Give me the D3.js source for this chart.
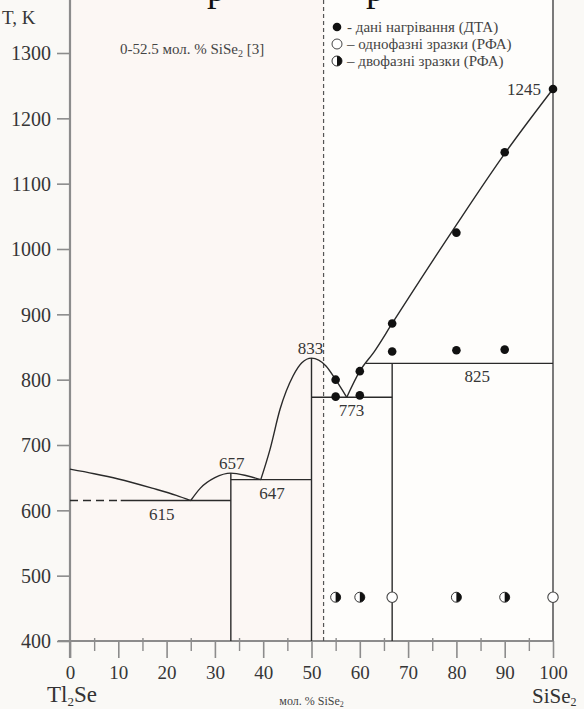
<!DOCTYPE html>
<html><head><meta charset="utf-8">
<script src="https://cdn.jsdelivr.net/npm/d3@7"></script>
<style>
html,body{margin:0;padding:0;background:#faf9f6;overflow:hidden;}
svg{display:block;}
text{font-family:"Liberation Serif","Times New Roman",serif;}
</style></head><body>
<svg id="chart" width="584" height="709"></svg>
<script>
// Axis ticks: composition (mol. % SiSe2) and temperature (K)
const xTicks = [0,10,20,30,40,50,60,70,80,90,100];
const xMinorTicks = [5,15,25,35,45,55,65,75,85,95];
const yTicks = [400,500,600,700,800,900,1000,1100,1200,1300];

// Liquidus branches as [mol. % SiSe2, T]
const liqTl2Se   = [[0,663],[5,656],[10,648],[17,634],[22,623],[25,615]];
const liqTl4SiSe4 = [[25,615],[27,634],[30,650],[33.3,657],[36.6,653],[39.5,647]];
const liqTl2SiSe3 = [[39.5,647],[41.4,693],[43.5,755],[46.2,806],[48,826],[50,833],[53,821],[55,800],[57.3,773]];
const liqSiSe2   = [[57.3,773],[60,813],[63,843],[66.7,886],[70,924],[80,1037],[90,1146],[100,1245]];

// Invariant temperatures (K) with their composition ranges
const eutectic615 = {T:615, from:0, dashedTo:10.5, to:33.3};
const eutectic647 = {T:647, from:33.3, to:50};
const eutectic773 = {T:773, from:50, to:66.7};
const peritectic825 = {T:825, to:100};

// Compound verticals: composition and top temperature
const compoundX = [33.3, 50, 66.7];
const compoundTop = [657, 833, 825];

// Boundary of the region studied in [3]
const refLimitX = 52.5;

// DTA heating data
const dtaX = [55,55,60,60,66.7,66.7,80,80,90,90,100];
const dtaT = [800,774,813,776,886,843,1025,845,1148,846,1245];

// XRD samples
const xrdT = 467;
const singlePhaseX = [66.7,100];
const twoPhaseX = [55,60,80,90];

// Temperature labels on the diagram
const labelText = ["615","657","647","833","773","825","1245"];
const labelX = [19.0,33.5,41.8,49.8,58.3,84.3,97.5];
const labelT = [615,657,647,833,773,825,1245];

const legendText = ["дані нагрівання (ДТА)","однофазні зразки (РФА)","двофазні зразки (РФА)"];

const svg = d3.select("#chart");
const x = d3.scaleLinear([0,100],[70,553]);
const y = d3.scaleLinear([400,1300],[641,53]);
const ink = "#2a2a2a", axisGrey = "#8c8c8c", textCol = "#363636";

// Background panels
svg.append("rect").attr("x",x(0)).attr("y",0).attr("width",x(refLimitX)-x(0)).attr("height",y(400))
  .attr("fill","#fcf7f4");
svg.append("rect").attr("x",x(refLimitX)).attr("y",0).attr("width",x(100)-x(refLimitX)).attr("height",y(400))
  .attr("fill","#fefdfb");

// Fragments of the heading above the figure
svg.append("g").selectAll("text").data([207,366]).join("text")
  .attr("x",d=>d).attr("y",1).attr("font-size",38).attr("fill","#111").text("р");

// Y axis
const yAxis = svg.append("g").attr("transform",`translate(${x(0)},0)`)
  .call(d3.axisLeft(y).tickValues(yTicks).tickSize(13).tickPadding(6).tickFormat(d3.format("d")));
yAxis.select(".domain").remove();
yAxis.selectAll(".tick line").attr("stroke",axisGrey).attr("stroke-width",1.6);
yAxis.selectAll(".tick text").attr("font-size",20).attr("fill",textCol)
  .attr("font-family","Liberation Serif, serif").attr("dy","0.34em");
svg.append("line").attr("x1",x(0)).attr("x2",x(0)).attr("y1",0).attr("y2",y(400)+17)
  .attr("stroke",axisGrey).attr("stroke-width",2.2);

// X axis
const xAxisG = svg.append("g").attr("transform",`translate(0,${y(400)})`);
xAxisG.call(d3.axisBottom(x).tickValues(xTicks).tickSize(17).tickPadding(8).tickFormat(d3.format("d")));
xAxisG.select(".domain").remove();
xAxisG.selectAll(".tick line").attr("stroke",axisGrey).attr("stroke-width",1.6);
xAxisG.selectAll(".tick text").attr("font-size",19).attr("fill",textCol).attr("font-family","Liberation Serif, serif");
const xMinor = svg.append("g").attr("transform",`translate(0,${y(400)})`);
xMinor.call(d3.axisBottom(x).tickValues(xMinorTicks).tickSize(10).tickFormat(""));
xMinor.select(".domain").remove();
xMinor.selectAll(".tick line").attr("stroke",axisGrey).attr("stroke-width",1.4).attr("y1",-3);
svg.append("line").attr("x1",x(0)-12).attr("x2",x(100)).attr("y1",y(400)).attr("y2",y(400))
  .attr("stroke",axisGrey).attr("stroke-width",2);

// Right border at pure SiSe2
svg.append("line").attr("x1",x(100)).attr("x2",x(100)).attr("y1",0).attr("y2",y(400))
  .attr("stroke","#7a7a7a").attr("stroke-width",2);

// Boundary of literature data
svg.append("line").attr("x1",x(refLimitX)).attr("x2",x(refLimitX)).attr("y1",0).attr("y2",y(400))
  .attr("stroke","#555").attr("stroke-width",1.2).attr("stroke-dasharray","4,3");

// Phase diagram lines
const g = svg.append("g").attr("fill","none").attr("stroke",ink).attr("stroke-width",1.4);
const line = d3.line().x(d=>x(d[0])).y(d=>y(d[1])).curve(d3.curveMonotoneX);
[liqTl2Se, liqTl4SiSe4, liqTl2SiSe3, liqSiSe2].forEach(b=>g.append("path").attr("d",line(b)));

// Solidus / invariant horizontals
g.append("line").attr("x1",x(eutectic615.from)).attr("x2",x(eutectic615.dashedTo))
  .attr("y1",y(eutectic615.T)).attr("y2",y(eutectic615.T)).attr("stroke-dasharray","8,5");
g.append("line").attr("x1",x(eutectic615.dashedTo)).attr("x2",x(eutectic615.to))
  .attr("y1",y(eutectic615.T)).attr("y2",y(eutectic615.T));
[eutectic647, eutectic773].forEach(e=>g.append("line").attr("x1",x(e.from)).attr("x2",x(e.to))
  .attr("y1",y(e.T)).attr("y2",y(e.T)));
// Peritectic starts where it meets the SiSe2 liquidus
let pStart = 60;
for (let i=1;i<liqSiSe2.length;i++){
  const a=liqSiSe2[i-1], b=liqSiSe2[i];
  if (a[1]<=peritectic825.T && b[1]>=peritectic825.T){ pStart = a[0]+(peritectic825.T-a[1])/(b[1]-a[1])*(b[0]-a[0]); break; }
}
g.append("line").attr("x1",x(pStart)).attr("x2",x(peritectic825.to))
  .attr("y1",y(peritectic825.T)).attr("y2",y(peritectic825.T));

// Compound verticals
compoundX.forEach((cx,i)=>g.append("line").attr("x1",x(cx)).attr("x2",x(cx))
  .attr("y1",y(400)).attr("y2",y(compoundTop[i])));

// DTA points
svg.append("g").selectAll("circle").data(dtaX).join("circle")
  .attr("cx",d=>x(d)).attr("cy",(d,i)=>y(dtaT[i])).attr("r",4.3).attr("fill","#111");

// XRD markers
function halfMarker(sel, cx, cy, r){
  sel.append("circle").attr("cx",cx).attr("cy",cy).attr("r",r).attr("fill","#fff").attr("stroke","#333").attr("stroke-width",1);
  sel.append("path").attr("d",`M${cx},${cy-r} A${r},${r} 0 0 1 ${cx},${cy+r} Z`).attr("fill","#111");
}
const xrd = svg.append("g");
singlePhaseX.forEach(d=>xrd.append("circle").attr("cx",x(d)).attr("cy",y(xrdT)).attr("r",5.2)
  .attr("fill","#fff").attr("stroke","#444").attr("stroke-width",1.1));
twoPhaseX.forEach(d=>halfMarker(xrd, x(d), y(xrdT), 5));

// Temperature labels
const lbl = svg.append("g").attr("font-size",17).attr("fill",textCol);
labelText.forEach((t,i)=>{
  const below = (t==="615"||t==="647"||t==="773"||t==="825");
  lbl.append("text").attr("x",x(labelX[i])).attr("y",y(labelT[i])+(below?19:(t==="1245"?6:-4)))
    .attr("text-anchor",t==="1245"?"end":"middle").text(t);
});

// Annotation for the literature range
const ann = svg.append("text").attr("x",120).attr("y",54).attr("font-size",15).attr("fill","#444");
ann.append("tspan").text("0-52.5 мол. % SiSe");
ann.append("tspan").attr("font-size",10).attr("dy",3).text("2");
ann.append("tspan").attr("dy",-3).text(" [3]");

// Legend
const leg = svg.append("g").attr("font-size",15).attr("fill","#444");
const ly = [27,44,61];
leg.append("circle").attr("cx",337).attr("cy",ly[0]).attr("r",4.3).attr("fill","#111");
leg.append("circle").attr("cx",337).attr("cy",ly[1]).attr("r",5).attr("fill","#fff").attr("stroke","#444").attr("stroke-width",1);
halfMarker(leg, 337, ly[2], 5);
legendText.forEach((t,i)=>leg.append("text").attr("x",347).attr("y",ly[i]+5).text((i===0?"- ":"– ")+t));

// Axis titles
svg.append("text").attr("x",2).attr("y",24).attr("font-size",19).attr("fill",textCol).text("T, K");
const t1 = svg.append("text").attr("x",47).attr("y",702).attr("font-size",23).attr("fill","#333");
t1.append("tspan").text("Tl");
t1.append("tspan").attr("font-size",13).attr("dy",4).text("2");
t1.append("tspan").attr("dy",-4).text("Se");
const t2 = svg.append("text").attr("x",532).attr("y",703).attr("font-size",21).attr("fill","#333");
t2.append("tspan").text("SiSe");
t2.append("tspan").attr("font-size",12).attr("dy",3).text("2");
const t3 = svg.append("text").attr("x",x(50)).attr("y",705).attr("font-size",12).attr("fill","#444").attr("text-anchor","middle");
t3.append("tspan").text("мол. % SiSe");
t3.append("tspan").attr("font-size",8).attr("dy",2).text("2");
</script>
</body></html>
